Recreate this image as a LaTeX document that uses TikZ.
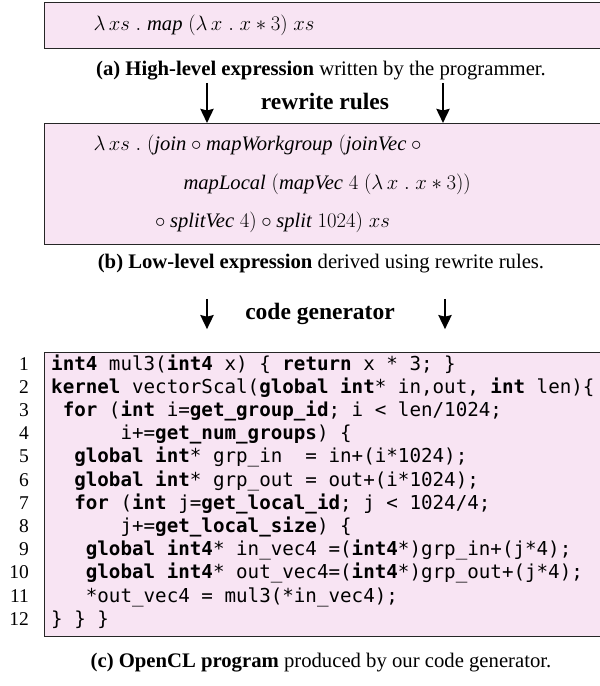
\documentclass[tikz,border=0pt]{standalone}
\usepackage{fontspec}
\setmainfont{Liberation Serif}
\setmonofont{DejaVu Sans Mono}
\usetikzlibrary{arrows.meta, positioning}
\definecolor{exprpink}{RGB}{248,228,243}
\newlength\cw
\newcommand\ind[1]{\hspace*{#1\cw}}

\begin{document}
\settowidth{\cw}{\fontsize{19.2}{23}\ttfamily x}
\begin{tikzpicture}[
    x=1pt, y=-1pt,
    expr/.style={draw=black!85, line width=1.1pt, fill=exprpink, anchor=north west, text width=520pt, inner xsep=49pt, align=left, font=\fontsize{20.6}{38.5}\selectfont},
    caption/.style={font=\fontsize{20.7}{24}\selectfont},
    stage/.style={font=\fontsize{23.5}{27}\selectfont\bfseries, minimum height=30pt, inner sep=0pt},
    flow/.style={-{Stealth[length=14pt,width=13pt,inset=1.5pt]}, line width=2.8pt},
    code/.style={anchor=base west, inner sep=0pt, font=\fontsize{19.2}{23}\ttfamily},
    lineno/.style={anchor=base east, inner sep=0pt, font=\fontsize{19.5}{23}\selectfont}
]
    \useasboundingbox (0,0) rectangle (600,686);

    % (a) high-level expression
    \node[expr, minimum height=46pt] (high) at (44,2)
        {$\lambda\,xs\;.\;\textit{map}\;(\lambda\,x\;.\;x*3)\;xs$};
    \node[caption] (capA) at (321,71) {\textbf{(a) High-level expression} written by the programmer.};

    \node[stage, minimum height=36pt] (rules) at (325,101) {rewrite rules};

    % (b) low-level expression
    \node[expr, minimum height=121pt] (low) at (44,123)
        {$\lambda\,xs\;.\;(\textit{join}\circ\textit{mapWorkgroup}\;(\textit{joinVec}\circ{}$\\
         \hspace*{90pt}$\textit{mapLocal}\;(\textit{mapVec}\;4\;(\lambda\,x\;.\;x*3))$\\
         \hspace*{57pt}${}\circ\textit{splitVec}\;4)\circ\textit{split}\;1024)\;xs$};
    \node[caption] (capB) at (321,264) {\textbf{(b) Low-level expression} derived using rewrite rules.};

    \draw[flow] ([xshift=-118pt]rules.north) -- ([xshift=-118pt]rules.north |- low.north);
    \draw[flow] ([xshift=118pt]rules.north) -- ([xshift=118pt]rules.north |- low.north);

    \node[stage] (gen) at (320,314) {code generator};
    \draw[flow] ([xshift=-113pt]gen.north) -- ([xshift=-113pt]gen.south);
    \draw[flow] ([xshift=125pt]gen.north) -- ([xshift=125pt]gen.south);

    % (c) OpenCL program
    \node[expr, minimum height=284pt] (prog) at (44,352) {};
    \foreach \n in {1,...,12}
        \node[lineno] (n\n) at (29,{370+(\n-1)*23.2}) {\n};

    \node[code] (c1) at (51,370) {\textbf{int4} mul3(\textbf{int4} x) \{ \textbf{return} x * 3; \}};
    \node[code] (c2) at (51,393.2) {\textbf{kernel} vectorScal(\textbf{global} \textbf{int}* in,out, \textbf{int} len)\{};
    \node[code] (c3) at (51,416.4) {\ind{1}\textbf{for} (\textbf{int} i=\textbf{get\_group\_id}; i < len/1024;};
    \node[code] (c4) at (51,439.6) {\ind{6}i+=\textbf{get\_num\_groups}) \{};
    \node[code] (c5) at (51,462.8) {\ind{2}\textbf{global} \textbf{int}* grp\_in\ind{2}= in+(i*1024);};
    \node[code] (c6) at (51,486) {\ind{2}\textbf{global} \textbf{int}* grp\_out = out+(i*1024);};
    \node[code] (c7) at (51,509.2) {\ind{2}\textbf{for} (\textbf{int} j=\textbf{get\_local\_id}; j < 1024/4;};
    \node[code] (c8) at (51,532.4) {\ind{6}j+=\textbf{get\_local\_size}) \{};
    \node[code] (c9) at (51,555.6) {\ind{3}\textbf{global} \textbf{int4}* in\_vec4 =(\textbf{int4}*)grp\_in+(j*4);};
    \node[code] (c10) at (51,578.8) {\ind{3}\textbf{global} \textbf{int4}* out\_vec4=(\textbf{int4}*)grp\_out+(j*4);};
    \node[code] (c11) at (51,602) {\ind{3}*out\_vec4 = mul3(*in\_vec4);};
    \node[code] (c12) at (51,625.2) {\} \} \}};

    \node[caption] (capC) at (321,663) {\textbf{(c) OpenCL program} produced by our code generator.};
\end{tikzpicture}
\end{document}
